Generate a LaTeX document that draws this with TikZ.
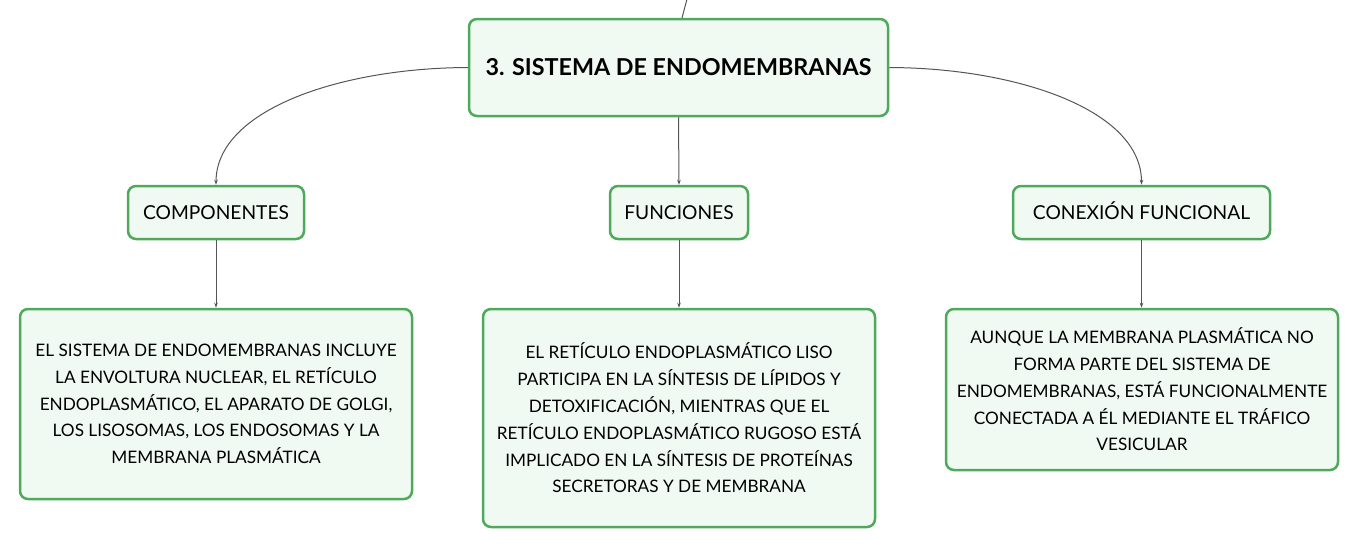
\documentclass[tikz,border=0pt]{standalone}
\usepackage{fontspec}
\setmainfont{Lato}
\usetikzlibrary{arrows.meta}
\definecolor{boxgreen}{HTML}{4DAA5A}
\definecolor{boxfill}{HTML}{F1F9F3}
\definecolor{linegray}{HTML}{555555}
\tikzset{
  box/.style={draw=boxgreen, line width=2.5pt, fill=boxfill, rounded corners=8pt, align=center, inner sep=0pt},
  rootbox/.style={box, font=\fontsize{23.3}{27}\selectfont\bfseries, text height=16.8pt, text depth=0pt},
  childbox/.style={box, font=\fontsize{19.2}{22}\selectfont, text height=13.8pt, text depth=0pt},
  leafbox/.style={box, font=\fontsize{17.2}{26.8}\selectfont},
  conn/.style={draw=linegray, line width=1pt, -{Stealth[length=5pt,width=3.5pt]}},
}
\begin{document}
\begin{tikzpicture}[x=1pt,y=-1pt]
\useasboundingbox (0,0) rectangle (1359,549);
\node[rootbox, minimum width=419pt, minimum height=97pt] (root) at (678.5,67.5) {3. SISTEMA DE ENDOMEMBRANAS};
\node[childbox, minimum width=176pt, minimum height=53pt] (comp) at (216,212.5) {COMPONENTES};
\node[childbox, minimum width=138pt, minimum height=53pt] (func) at (679,212.5) {FUNCIONES};
\node[childbox, minimum width=257pt, minimum height=53pt] (conx) at (1141.5,212.5) {CONEXIÓN FUNCIONAL};
\node[leafbox, minimum width=392pt, minimum height=190pt] (leafa) at (216,404) {EL SISTEMA DE ENDOMEMBRANAS INCLUYE\\LA ENVOLTURA NUCLEAR, EL RETÍCULO\\ENDOPLASMÁTICO, EL APARATO DE GOLGI,\\LOS LISOSOMAS, LOS ENDOSOMAS Y LA\\MEMBRANA PLASMÁTICA};
\node[leafbox, minimum width=392pt, minimum height=218pt] (leafb) at (679,418) {EL RETÍCULO ENDOPLASMÁTICO LISO\\PARTICIPA EN LA SÍNTESIS DE LÍPIDOS Y\\DETOXIFICACIÓN, MIENTRAS QUE EL\\RETÍCULO ENDOPLASMÁTICO RUGOSO ESTÁ\\IMPLICADO EN LA SÍNTESIS DE PROTEÍNAS\\SECRETORAS Y DE MEMBRANA};
\node[leafbox, minimum width=392pt, minimum height=161pt] (leafc) at (1142,389.5) {AUNQUE LA MEMBRANA PLASMÁTICA NO\\FORMA PARTE DEL SISTEMA DE\\ENDOMEMBRANAS, ESTÁ FUNCIONALMENTE\\CONECTADA A ÉL MEDIANTE EL TRÁFICO\\VESICULAR};
\coordinate (top) at (687,-1);
\coordinate (rootin) at (682,18);
\draw[draw=linegray, line width=1pt] (top) -- (rootin);
\draw[conn] (root.west) .. controls (340,68) and (216,110) .. (comp.north);
\draw[conn] (root.east) .. controls (1017,68) and (1141.5,110) .. (conx.north);
\draw[conn] (root.south) -- (func.north);
\draw[conn] (comp.south) -- (leafa.north);
\draw[conn] (func.south) -- (leafb.north);
\draw[conn] (conx.south) -- (conx.south |- leafc.north);
\end{tikzpicture}
\end{document}
